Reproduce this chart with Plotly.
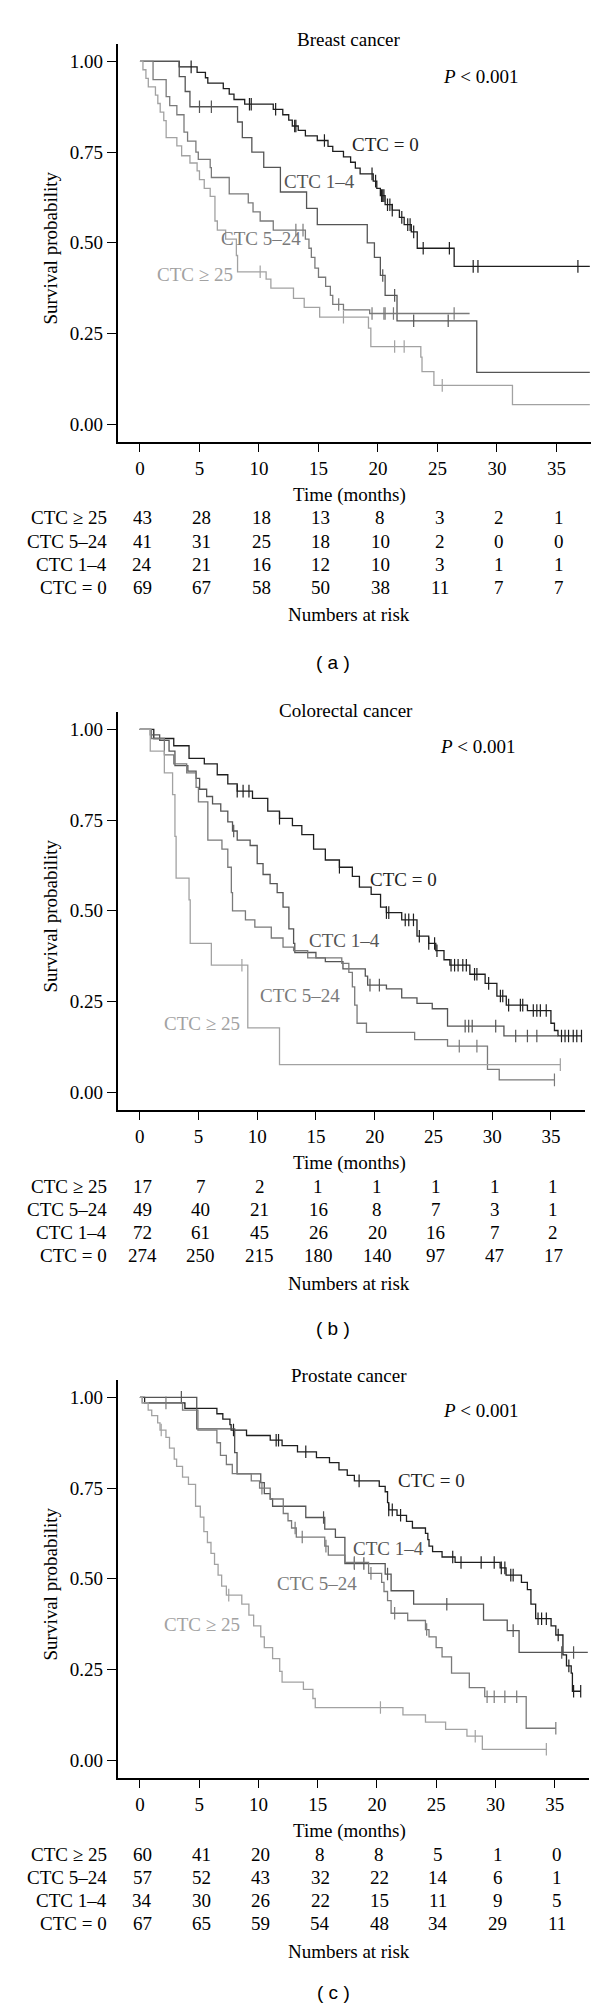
import numpy as np
import plotly.graph_objects as go

# ---- data ----
groups = ["CTC ≥ 25", "CTC 5–24", "CTC 1–4", "CTC = 0"]
risk_times = [0, 5, 10, 15, 20, 25, 30, 35]

# breast cancer
a0_t = [0, 3.3, 4.8, 5.5, 5.7, 7.0, 7.5, 7.9, 8.8, 11.2, 12.0, 12.5, 12.8, 13.3, 13.9, 14.9, 15.8, 16.2, 17.1,
        17.7, 18.1, 18.5, 19.6, 19.9, 20.2, 20.6, 21.2, 21.8, 22.2, 22.8, 23.3, 26.4]
a0_s = [1.0, 0.985, 0.97, 0.955, 0.94, 0.925, 0.91, 0.895, 0.882, 0.868, 0.853, 0.838, 0.822, 0.81, 0.795, 0.782,
        0.766, 0.752, 0.737, 0.722, 0.706, 0.69, 0.67, 0.65, 0.63, 0.605, 0.59, 0.57, 0.55, 0.53, 0.485, 0.435]
a0_c = [4.3, 9.2, 9.35, 11.4, 13.0, 13.1, 15.5, 19.5, 19.8, 20.3, 20.4, 20.5, 20.8, 21.0, 21.2, 22.0, 22.5, 22.7,
        23.0, 23.8, 26.0, 28.0, 28.4, 36.8]
a1_t = [0, 3.3, 3.8, 4.2, 8.2, 8.6, 9.4, 10.4, 11.8, 14.0, 14.9, 19.1, 19.7, 20.2, 20.6, 21.6, 28.3]
a1_s = [1.0, 0.958, 0.917, 0.875, 0.833, 0.79, 0.75, 0.708, 0.64, 0.595, 0.55, 0.50, 0.46, 0.41, 0.355, 0.285, 0.143]
a1_c = [5.0, 6.0, 20.4, 21.4, 23.0, 25.9]
a2_t = [0, 1.1, 2.2, 2.5, 3.1, 3.7, 4.0, 4.7, 4.9, 5.9, 6.0, 7.5, 9.1, 9.5, 10.1, 11.2, 13.9, 14.2, 14.4, 14.7,
        15.0, 15.6, 16.0, 16.2, 17.1, 19.3]
a2_s = [1.0, 0.95, 0.903, 0.878, 0.853, 0.805, 0.78, 0.75, 0.73, 0.707, 0.68, 0.635, 0.61, 0.585, 0.56, 0.535,
        0.51, 0.485, 0.46, 0.43, 0.405, 0.38, 0.355, 0.33, 0.315, 0.305]
a2_c = [13.1, 13.7, 16.7, 19.5, 20.5, 20.6, 21.3, 26.4]
a3_t = [0, 0.25, 0.5, 0.7, 1.3, 1.5, 1.7, 2.0, 2.2, 3.1, 3.5, 4.2, 4.8, 5.0, 5.4, 5.9, 6.3, 6.5, 7.2, 8.1, 8.2,
        10.6, 11.0, 12.9, 13.8, 15.1, 19.2, 19.4, 23.6, 23.7, 24.7, 31.3]
a3_s = [1.0, 0.977, 0.953, 0.93, 0.907, 0.884, 0.86, 0.837, 0.79, 0.767, 0.74, 0.72, 0.698, 0.674, 0.65, 0.628,
        0.56, 0.535, 0.51, 0.465, 0.42, 0.40, 0.375, 0.347, 0.322, 0.295, 0.265, 0.214, 0.185, 0.145, 0.107, 0.054]
a3_c = [10.1, 17.1, 21.4, 22.2, 25.4]
a_end = [37.8, 37.8, 27.7, 37.8]
a_risk0 = [69, 67, 58, 50, 38, 11, 7, 7]
a_risk1 = [24, 21, 16, 12, 10, 3, 1, 1]
a_risk2 = [41, 31, 25, 18, 10, 2, 0, 0]
a_risk3 = [43, 28, 18, 13, 8, 3, 2, 1]

# colorectal cancer
b0_t = [0, 1.2, 2.9, 4.2, 5.5, 6.6, 7.5, 8.3, 9.6, 10.9, 11.9, 13.0, 13.8, 14.8, 15.8, 17.0, 18.1, 18.7, 19.7,
        20.5, 21.0, 22.3, 23.6, 24.6, 25.2, 25.9, 26.4, 28.1, 29.4, 30.4, 31.2, 33.0, 35.0, 35.3, 35.6]
b0_s = [1.0, 0.975, 0.955, 0.92, 0.905, 0.875, 0.85, 0.83, 0.81, 0.775, 0.755, 0.735, 0.71, 0.67, 0.64, 0.62,
        0.595, 0.565, 0.545, 0.51, 0.495, 0.475, 0.43, 0.41, 0.39, 0.365, 0.35, 0.325, 0.30, 0.265, 0.24, 0.225,
        0.19, 0.17, 0.155]
b0_c = [8.3, 8.8, 9.3, 11.9, 17.0, 21.0, 21.2, 22.6, 22.9, 23.3, 23.8, 24.6, 25.1, 25.3, 26.5, 26.8, 27.1, 27.5,
        27.8, 28.5, 28.7, 29.7, 30.7, 30.9, 31.4, 32.4, 32.6, 33.5, 33.8, 34.1, 34.6, 35.9, 36.2, 36.5, 36.9, 37.2,
        37.6]
b1_t = [0, 0.9, 1.7, 2.5, 3.0, 4.1, 4.8, 5.1, 5.7, 6.2, 6.9, 7.5, 7.9, 8.3, 9.4, 10.0, 10.5, 11.1, 11.7, 12.2,
        12.7, 13.1, 13.2, 15.0, 15.8, 17.3, 19.2, 19.4, 21.0, 22.3, 23.6, 24.9, 26.2, 31.0]
b1_s = [1.0, 0.985, 0.97, 0.94, 0.90, 0.885, 0.865, 0.835, 0.815, 0.795, 0.775, 0.745, 0.72, 0.695, 0.68, 0.63,
        0.60, 0.575, 0.55, 0.51, 0.45, 0.41, 0.385, 0.37, 0.36, 0.34, 0.32, 0.295, 0.285, 0.26, 0.245, 0.23,
        0.182, 0.155]
b1_c = [8.0, 19.6, 20.4, 27.7, 28.0, 28.3, 30.3, 32.0, 33.0, 33.8]
b2_t = [0, 1.0, 2.1, 2.9, 4.0, 4.8, 5.0, 5.8, 7.0, 7.5, 7.8, 7.9, 9.0, 9.8, 11.2, 12.2, 13.1, 14.3, 17.2, 17.8,
        18.1, 18.3, 18.5, 19.3, 23.4, 26.2, 29.6, 30.6]
b2_s = [1.0, 0.975, 0.93, 0.905, 0.88, 0.84, 0.80, 0.695, 0.67, 0.62, 0.55, 0.50, 0.475, 0.455, 0.425, 0.40, 0.39,
        0.37, 0.355, 0.33, 0.29, 0.24, 0.19, 0.165, 0.145, 0.127, 0.063, 0.034]
b2_c = [27.2, 28.7, 35.3]
b3_t = [0, 0.9, 2.1, 2.8, 3.0, 3.1, 4.2, 4.3, 6.1, 9.2, 11.9]
b3_s = [1.0, 0.94, 0.88, 0.82, 0.705, 0.59, 0.53, 0.41, 0.35, 0.177, 0.076]
b3_c = [8.7, 35.8]
b_end = [37.6, 35.6, 35.3, 35.8]
b_risk0 = [274, 250, 215, 180, 140, 97, 47, 17]
b_risk1 = [72, 61, 45, 26, 20, 16, 7, 2]
b_risk2 = [49, 40, 21, 16, 8, 7, 3, 1]
b_risk3 = [17, 7, 2, 1, 1, 1, 1, 1]

# prostate cancer
c0_t = [0, 0.4, 3.8, 6.5, 7.0, 7.6, 7.7, 9.0, 11.0, 12.0, 13.3, 14.9, 16.0, 16.8, 17.5, 18.1, 20.2, 20.7, 20.9,
        21.0, 21.7, 22.5, 23.0, 24.1, 24.3, 24.4, 24.7, 25.5, 26.6, 30.4, 30.9, 32.2, 32.7, 33.0, 33.4, 34.7, 35.1,
        35.7, 36.0, 36.4, 36.5]
c0_s = [1.0, 0.985, 0.97, 0.955, 0.94, 0.925, 0.91, 0.895, 0.882, 0.867, 0.85, 0.834, 0.82, 0.80, 0.785, 0.77,
        0.755, 0.74, 0.71, 0.69, 0.675, 0.658, 0.64, 0.625, 0.608, 0.59, 0.575, 0.56, 0.545, 0.53, 0.51, 0.49, 0.47,
        0.43, 0.39, 0.37, 0.345, 0.29, 0.26, 0.24, 0.19]
c0_c = [7.9, 11.5, 11.7, 14.0, 18.5, 21.0, 21.3, 22.0, 26.4, 27.1, 28.8, 29.9, 30.5, 30.8, 31.3, 31.5, 33.6, 33.9,
        34.3, 35.3, 36.2, 36.6, 37.2]
c1_t = [0, 4.8, 8.0, 8.2, 10.2, 10.5, 11.0, 11.2, 14.0, 15.6, 16.5, 17.3, 20.7, 21.2, 23.1, 29.0, 31.0, 32.0]
c1_s = [1.0, 0.913, 0.848, 0.789, 0.765, 0.735, 0.72, 0.70, 0.669, 0.637, 0.614, 0.542, 0.513, 0.467, 0.43, 0.386,
        0.357, 0.297]
c1_c = [3.5, 15.5, 18.1, 18.9, 20.9, 25.9, 31.5, 35.6, 36.6]
c2_t = [0, 0.2, 3.6, 4.9, 6.5, 6.8, 7.3, 7.8, 9.4, 10.1, 11.0, 12.1, 12.5, 12.8, 13.2, 15.6, 15.9, 17.3, 19.3,
        20.4, 20.6, 20.9, 21.2, 22.6, 24.1, 24.4, 25.0, 25.5, 26.3, 27.8, 29.1, 32.6]
c2_s = [1.0, 0.985, 0.965, 0.91, 0.875, 0.84, 0.815, 0.79, 0.77, 0.75, 0.72, 0.68, 0.66, 0.64, 0.615, 0.59, 0.565,
        0.545, 0.515, 0.49, 0.465, 0.44, 0.405, 0.385, 0.36, 0.34, 0.31, 0.285, 0.24, 0.2, 0.175, 0.088]
c2_c = [2.2, 10.3, 13.1, 13.7, 15.7, 18.1, 19.5, 21.5, 24.2, 29.3, 29.9, 30.8, 31.8, 35.1]
c3_t = [0, 0.2, 0.7, 1.0, 1.5, 1.7, 2.2, 2.5, 2.9, 3.1, 3.6, 4.1, 4.7, 5.1, 5.4, 5.7, 6.0, 6.3, 6.6, 6.9, 7.3,
        8.6, 9.2, 9.6, 10.2, 10.5, 11.2, 11.8, 12.0, 13.8, 14.6, 14.8, 22.2, 24.1, 25.8, 27.6, 28.9]
c3_s = [1.0, 0.985, 0.965, 0.95, 0.93, 0.91, 0.89, 0.86, 0.83, 0.81, 0.78, 0.76, 0.70, 0.67, 0.63, 0.60, 0.57,
        0.54, 0.51, 0.48, 0.455, 0.43, 0.40, 0.37, 0.34, 0.31, 0.28, 0.245, 0.215, 0.195, 0.17, 0.145, 0.125,
        0.105, 0.085, 0.066, 0.03]
c3_c = [1.8, 7.5, 20.3, 28.3, 34.3]
c_end = [37.2, 37.8, 35.1, 34.3]
c_risk0 = [67, 65, 59, 54, 48, 34, 29, 11]
c_risk1 = [34, 30, 26, 22, 15, 11, 9, 5]
c_risk2 = [57, 52, 43, 32, 22, 14, 6, 1]
c_risk3 = [60, 41, 20, 8, 8, 5, 1, 0]

panels = [
    ("Breast cancer", "( a )",
     [(a0_t, a0_s, a0_c), (a1_t, a1_s, a1_c), (a2_t, a2_s, a2_c), (a3_t, a3_s, a3_c)], a_end,
     [a_risk3, a_risk2, a_risk1, a_risk0]),
    ("Colorectal cancer", "( b )",
     [(b0_t, b0_s, b0_c), (b1_t, b1_s, b1_c), (b2_t, b2_s, b2_c), (b3_t, b3_s, b3_c)], b_end,
     [b_risk3, b_risk2, b_risk1, b_risk0]),
    ("Prostate cancer", "( c )",
     [(c0_t, c0_s, c0_c), (c1_t, c1_s, c1_c), (c2_t, c2_s, c2_c), (c3_t, c3_s, c3_c)], c_end,
     [c_risk3, c_risk2, c_risk1, c_risk0]),
]

# curve label positions in px inside each panel (left x, centre y)
label_pos = [
    [(342, 136), (274, 173), (211, 230), (147, 266)],
    [(360, 203), (299, 265), (250, 320), (154, 348)],
    [(388, 136), (343, 204), (267, 239), (154, 280)],
]
p_pos = [(473, 69), (470, 70), (473, 66)]
title_pos = [(341, 32), (338, 34), (341, 31)]
tag_y = [655, 652, 648]
x_right = [583, 577, 581]

colors = ["#1e1e1e", "#555555", "#7a7a7a", "#a2a2a2"]
curve_names = ["CTC = 0", "CTC 1–4", "CTC 5–24", "CTC ≥ 25"]

W, H, PH = 600, 2004, 668
SERIF = "Liberation Serif"
FS = 19
X0 = 109.6                  # y-axis px
YT, YB = 36.0, 434.3        # plot area y px (within panel)

def py(k, y):
    return 1 - (y + PH * k) / H

def text(x, y, s, xref="paper", xanchor="center", color="black", size=FS, family=SERIF, angle=0):
    return dict(x=x, y=y, xref=xref, yref="paper", text=s, showarrow=False, xanchor=xanchor,
                yanchor="middle", textangle=angle, font=dict(family=family, size=size, color=color))

fig = go.Figure()
ann = []
for k, (title, tag, curves, ends, risk) in enumerate(panels):
    xa = "x" if k == 0 else f"x{k+1}"
    ya = "y" if k == 0 else f"y{k+1}"
    for i, (t, s, c) in enumerate(curves):
        xs = list(t) + [ends[i]]
        ys = list(s) + [s[-1]]
        fig.add_trace(go.Scatter(x=xs, y=ys, mode="lines", line=dict(color=colors[i], width=1.3, shape="hv"),
                                 xaxis=xa, yaxis=ya, showlegend=False, hoverinfo="skip"))
        idx = np.searchsorted(np.array(t), np.array(c), side="right") - 1
        cy = [s[j] for j in idx]
        fig.add_trace(go.Scatter(x=c, y=cy, mode="markers",
                                 marker=dict(symbol="line-ns", size=9, line=dict(color=colors[i], width=1.2)),
                                 xaxis=xa, yaxis=ya, showlegend=False, hoverinfo="skip"))
        lx, ly = label_pos[k][i]
        ann.append(text(lx / W, py(k, ly), curve_names[i], xanchor="left", color=colors[i]))
    fig.update_layout({
        ("xaxis" if k == 0 else f"xaxis{k+1}"): dict(
            domain=[X0 / W, x_right[k] / W], range=[-1.88, 37.9], anchor=ya, tickvals=risk_times,
            ticks="outside", ticklen=8, tickwidth=1.3, tickcolor="black", showline=True, linecolor="black",
            linewidth=1.5, showgrid=False, zeroline=False, tickfont=dict(family=SERIF, size=FS, color="black")),
        ("yaxis" if k == 0 else f"yaxis{k+1}"): dict(
            domain=[py(k, YB), py(k, YT)], range=[-0.05, 1.048], anchor=xa, tickvals=[0, 0.25, 0.5, 0.75, 1.0],
            tickformat=".2f", ticks="outside", ticklen=9, tickwidth=1.3, tickcolor="black", showline=True,
            linecolor="black", linewidth=1.5, showgrid=False, zeroline=False,
            tickfont=dict(family=SERIF, size=FS, color="black")),
    })
    tx, ty = title_pos[k]
    ann.append(text(tx / W, py(k, ty), title))
    px_, pyy = p_pos[k]
    ann.append(text(px_ / W, py(k, pyy), "<i>P</i> < 0.001"))
    ann.append(text(41.5 / W, py(k, 240), "Survival probability", angle=-90))
    ann.append(text(341 / W, py(k, 487), "Time (months)"))
    for r, row in enumerate(risk):
        yy = py(k, 510 + 23 * r)
        ann.append(text(101 / W, yy, groups[r], xanchor="right"))
        for tt, n in zip(risk_times, row):
            ann.append(text(tt + 0.2, yy, str(n), xref=xa))
    ann.append(text(341 / W, py(k, 607), "Numbers at risk"))
    ann.append(text(325 / W, py(k, tag_y[k]), tag, family="Liberation Sans", size=19))

fig.update_layout(width=W, height=H, margin=dict(l=0, r=0, t=0, b=0), plot_bgcolor="white",
                  paper_bgcolor="white", annotations=ann, showlegend=False)
fig.write_html("out.html")
